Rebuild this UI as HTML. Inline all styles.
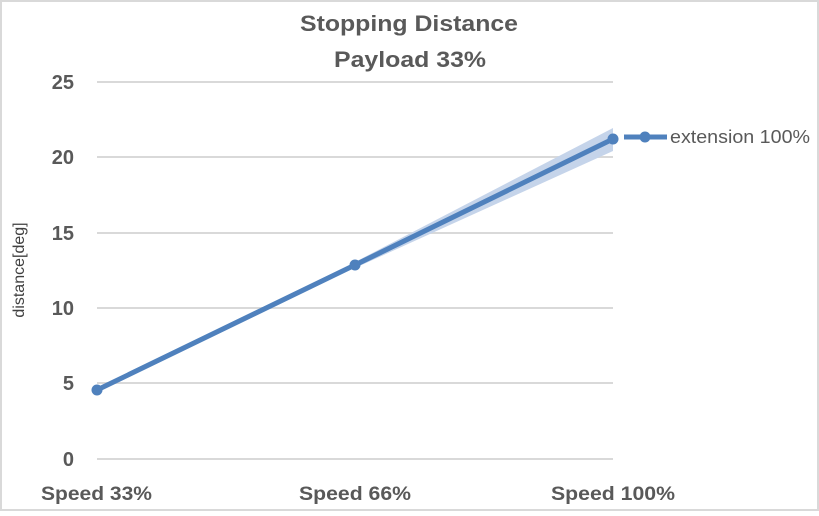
<!DOCTYPE html>
<html><head><style>
body{margin:0;width:819px;height:511px;overflow:hidden;background:#fff}
</style></head><body>
<svg width="819" height="511" xmlns="http://www.w3.org/2000/svg" font-family="Liberation Sans, sans-serif">
<rect x="1" y="1" width="817" height="509" fill="#fff" stroke="#d9d9d9" stroke-width="2"/>
<text x="300" y="31" font-size="22" font-weight="bold" fill="#595959" textLength="218" lengthAdjust="spacingAndGlyphs">Stopping Distance</text>
<text x="334" y="67" font-size="22" font-weight="bold" fill="#595959" textLength="152" lengthAdjust="spacingAndGlyphs">Payload 33%</text>
<g stroke="#d9d9d9" stroke-width="2">
<line x1="97" y1="82" x2="613" y2="82"/>
<line x1="97" y1="157" x2="613" y2="157"/>
<line x1="97" y1="233" x2="613" y2="233"/>
<line x1="97" y1="308" x2="613" y2="308"/>
<line x1="97" y1="383" x2="613" y2="383"/>
<line x1="97" y1="459" x2="613" y2="459"/>
</g>
<g font-size="20" font-weight="bold" fill="#595959" text-anchor="end">
<text x="74" y="89">25</text><text x="74" y="164">20</text><text x="74" y="240">15</text>
<text x="74" y="315">10</text><text x="74" y="390">5</text><text x="74" y="466">0</text>
</g>
<g font-size="19" font-weight="bold" fill="#595959">
<text x="41" y="500" textLength="111" lengthAdjust="spacingAndGlyphs">Speed 33%</text>
<text x="299" y="500" textLength="112" lengthAdjust="spacingAndGlyphs">Speed 66%</text>
<text x="551" y="500" textLength="124" lengthAdjust="spacingAndGlyphs">Speed 100%</text>
</g>
<text transform="translate(24,270) rotate(-90)" text-anchor="middle" font-size="16" fill="#404040">distance[deg]</text>
<polygon points="355,262 613,128 613,151 355,268" fill="#c5d4ea"/>
<polyline points="97,390 355,265 613,139" fill="none" stroke="#4f81bd" stroke-width="5"/>
<g fill="#4f81bd"><circle cx="97" cy="390" r="5.5"/><circle cx="355" cy="265" r="5.5"/><circle cx="613" cy="139" r="5.5"/>
<circle cx="645" cy="137" r="5.5"/></g>
<line x1="624" y1="137" x2="667" y2="137" stroke="#4f81bd" stroke-width="5"/>
<text x="670" y="143" font-size="18" fill="#595959" textLength="140" lengthAdjust="spacingAndGlyphs">extension 100%</text>
</svg>
</body></html>
